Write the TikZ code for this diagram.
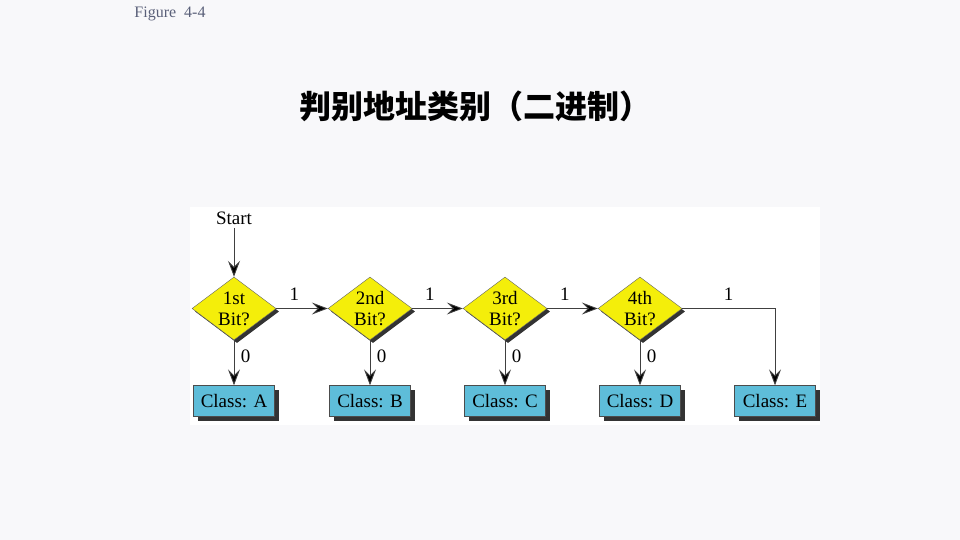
\documentclass[tikz,border=0pt]{standalone}
\usepackage{fontspec}
\setmainfont{Liberation Serif}
\newfontfamily\cjk{Noto Sans CJK SC}
\usetikzlibrary{shapes.geometric,shadows,arrows.meta}
\definecolor{pagebg}{HTML}{F8F8FA}
\definecolor{bityellow}{HTML}{F4EE0A}
\definecolor{classblue}{HTML}{5EBDD9}
\definecolor{figgray}{HTML}{5A6079}
\begin{document}
\begin{tikzpicture}[
        x=1pt, y=-1pt,
        every node/.style={font=\fontsize{19}{21}\selectfont},
        decision/.style={
            diamond,
            draw=black!60,
            fill=bityellow,
            inner sep=0pt,
            minimum width=84pt,
            minimum height=63pt,
            drop shadow={shadow xshift=3pt, shadow yshift=-3pt, fill=black!80, opacity=1}
        },
        classbox/.style={
            draw=black!70,
            fill=classblue,
            inner sep=0pt,
            minimum width=81pt,
            minimum height=31pt,
            drop shadow={shadow xshift=4pt, shadow yshift=-4pt, fill=black!80, opacity=1}
        },
        arrow/.style={-{Stealth[length=16pt, width=12pt, inset=6pt, fill=black]}, draw=black!75, line width=0.9pt}
    ]

    % Page and figure area
    \fill[pagebg] (0,0) rectangle (960,540);
    \fill[white] (190,207) rectangle (820,425);
    \useasboundingbox (0,0) rectangle (960,540);

    % Captions
    \node[font=\fontsize{16}{18}\selectfont, text=figgray] (fig) at (170,14) {Figure\ \ 4-4};
    \node[font=\cjk\bfseries\fontsize{32}{36}\selectfont] (title) at (475,106) {判别地址类别（二进制）};

    % Start
    \node (start) at (234,218) {Start};

    % Decisions
    \node[decision, label={[align=center, font=\fontsize{19}{21}\selectfont]center:1st\\Bit?}] (bit1) at (234,308.5) {};
    \node[decision, label={[align=center, font=\fontsize{19}{21}\selectfont]center:2nd\\Bit?}] (bit2) at (370,308.5) {};
    \node[decision, label={[align=center, font=\fontsize{19}{21}\selectfont]center:3rd\\Bit?}] (bit3) at (505,308.5) {};
    \node[decision, label={[align=center, font=\fontsize{19}{21}\selectfont]center:4th\\Bit?}] (bit4) at (640,308.5) {};

    % Classes
    \node[classbox] (classA) at (234,401) {Class: A};
    \node[classbox] (classB) at (370,401) {Class: B};
    \node[classbox] (classC) at (505,401) {Class: C};
    \node[classbox] (classD) at (640,401) {Class: D};
    \node[classbox] (classE) at (775,401) {Class: E};

    % Bit is 1
    \draw[arrow] (start) -- (bit1);
    \draw[arrow] (bit1) -- node[pos=0.35, above=4pt] {1} (bit2);
    \draw[arrow] (bit2) -- node[pos=0.35, above=4pt] {1} (bit3);
    \draw[arrow] (bit3) -- node[pos=0.35, above=4pt] {1} (bit4);
    \draw[arrow] (bit4.east) -| node[pos=0.25, above=4pt] {1} (classE.north);

    % Bit is 0
    \draw[arrow] (bit1) -- node[pos=0.35, right=3pt] {0} (classA);
    \draw[arrow] (bit2) -- node[pos=0.35, right=3pt] {0} (classB);
    \draw[arrow] (bit3) -- node[pos=0.35, right=3pt] {0} (classC);
    \draw[arrow] (bit4) -- node[pos=0.35, right=3pt] {0} (classD);

\end{tikzpicture}
\end{document}
